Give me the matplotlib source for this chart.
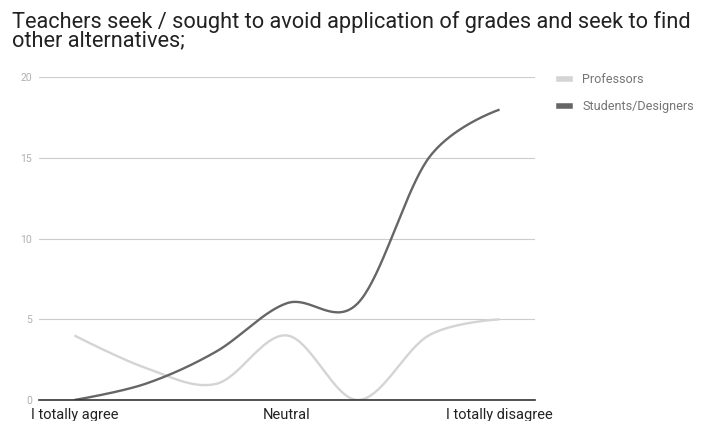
import numpy as np
import matplotlib.pyplot as plt
from matplotlib.lines import Line2D

plt.rcParams['font.family'] = ['Roboto', 'DejaVu Sans']

title = "Teachers seek / sought to avoid application of grades and seek to find\nother alternatives;"
categories = ["I totally agree", "", "", "Neutral", "", "", "I totally disagree"]
professors = [4, 2, 1, 4, 0, 4, 5]
students = [0, 1, 3, 6, 6, 15, 18]

prof_color = "#d4d4d4"
stud_color = "#666666"


def smooth_curve(ys, k=1/6, n=40):
    # piecewise cubic bezier through the points (catmull-rom style control points)
    pts = np.column_stack([np.arange(len(ys), dtype=float), np.asarray(ys, dtype=float)])
    out = []
    for i in range(len(pts) - 1):
        p0, p1 = pts[i], pts[i + 1]
        prev = pts[i - 1] if i > 0 else p0
        nxt = pts[i + 2] if i + 2 < len(pts) else p1
        c1 = p0 + (p1 - prev) * k if i > 0 else p0
        c2 = p1 - (nxt - p0) * k if i + 2 < len(pts) else p1
        t = np.linspace(0, 1, n)[:, None]
        seg = ((1 - t)**3 * p0 + 3 * (1 - t)**2 * t * c1
               + 3 * (1 - t) * t**2 * c2 + t**3 * p1)
        out.append(seg if i == 0 else seg[1:])
    out = np.vstack(out)
    return out[:, 0], out[:, 1]


fig = plt.figure(figsize=(7.02, 4.21), dpi=100)
ax = fig.add_axes([39/702, 21/421, (535-39)/702, (400-77.3)/421])

for vals, color, lab in [(professors, prof_color, "Professors"),
                         (students, stud_color, "Students/Designers")]:
    xs, ys = smooth_curve(vals)
    ax.plot(xs, ys, color=color, lw=1.7, solid_capstyle='butt', label=lab, zorder=3)

ax.set_xlim(-0.5, len(categories) - 0.5)
ax.set_ylim(0, 20)
ax.set_yticks([0, 5, 10, 15, 20])
ax.yaxis.grid(True, color="#cccccc", lw=0.8)
ax.set_axisbelow(True)
for s in ["top", "right", "left"]:
    ax.spines[s].set_visible(False)
ax.spines["bottom"].set_color("#333333")
ax.spines["bottom"].set_linewidth(1.2)
ax.spines["bottom"].set_zorder(4)
ax.tick_params(axis='y', length=0, labelsize=7.5, labelcolor="#b0b0b0", pad=5)
ax.tick_params(axis='x', length=0, labelsize=10.5, labelcolor="#222222", pad=6)
ax.set_xticks(range(len(categories)))
ax.set_xticklabels(categories)

fig.text(12/702, 1 - 11/421, title, ha='left', va='top', fontsize=15.7,
         color="#222222", linespacing=0.82)

handles = [Line2D([0], [0], color=prof_color, lw=4),
           Line2D([0], [0], color=stud_color, lw=4)]
fig.legend(handles, ["Professors", "Students/Designers"], loc='upper left',
           bbox_to_anchor=(548/702, 1 - 62/421), frameon=False, fontsize=9.1,
           handlelength=0.85, handletextpad=0.95, labelspacing=1.1,
           labelcolor="#757575")

fig.savefig("out.png", dpi=100)
